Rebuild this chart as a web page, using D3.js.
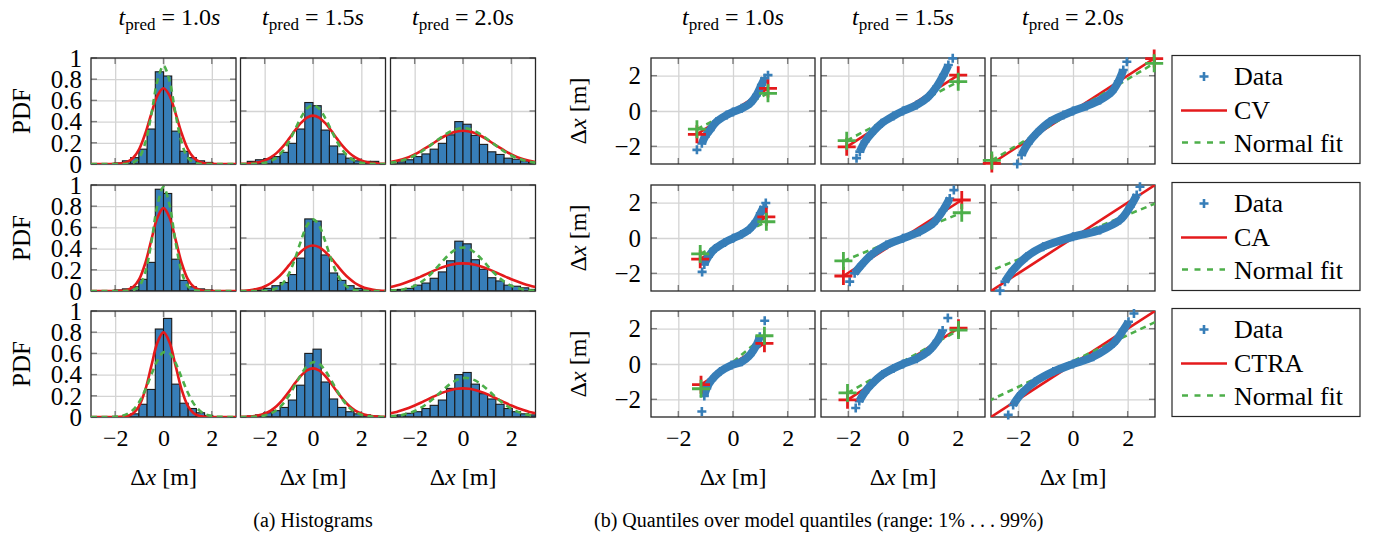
<!DOCTYPE html>
<html>
<head>
<meta charset="utf-8">
<script src="https://cdn.jsdelivr.net/npm/d3@7"></script>
<style>
  body { margin: 0; background: #fff; }
  text { font-family: "Liberation Serif", "Times New Roman", serif; fill: #000; }
</style>
</head>
<body>
<div id="chart"></div>
<script>
// ---- data ----
var predTimes = ["1.0", "1.5", "2.0"];
var modelNames = ["CV", "CA", "CTRA"];
var xTicks = [-2, 0, 2];
var pdfTicksFirst = [0, 0.2, 0.4, 0.6, 0.8, 1];
var pdfTicksOther = [0, 0.5, 1];
var qqTicks = [-2, 0, 2];

// histogram bins: first left edge per panel, common bin width
var binWidth = 0.34;
var histStart = [
  [-2.04, -2.72, -2.72],
  [-2.04, -2.38, -3.06],
  [-2.04, -2.72, -3.06]
];
var histPdf = [
  [
    [0.01, 0.03, 0.06, 0.14, 0.33, 0.87, 0.83, 0.31, 0.12, 0.06, 0.03, 0.015],
    [0.025, 0.04, 0.05, 0.07, 0.11, 0.195, 0.33, 0.58, 0.55, 0.32, 0.17, 0.095, 0.055, 0.03, 0.025, 0.025],
    [0.02, 0.04, 0.07, 0.095, 0.14, 0.195, 0.275, 0.40, 0.375, 0.27, 0.185, 0.115, 0.09, 0.055, 0.045, 0.03, 0.02]
  ],
  [
    [0.01, 0.02, 0.04, 0.11, 0.27, 0.96, 0.92, 0.30, 0.10, 0.04, 0.02, 0.01],
    [0.01, 0.025, 0.05, 0.08, 0.155, 0.31, 0.68, 0.66, 0.34, 0.17, 0.10, 0.05, 0.025, 0.01],
    [0.01, 0.015, 0.025, 0.055, 0.075, 0.12, 0.18, 0.285, 0.47, 0.445, 0.295, 0.205, 0.125, 0.095, 0.055, 0.045, 0.03, 0.015]
  ],
  [
    [0.005, 0.01, 0.03, 0.12, 0.26, 0.83, 0.93, 0.31, 0.13, 0.08, 0.04, 0.015],
    [0.01, 0.02, 0.04, 0.06, 0.09, 0.16, 0.30, 0.60, 0.64, 0.33, 0.17, 0.09, 0.05, 0.03, 0.02, 0.01],
    [0.015, 0.02, 0.035, 0.05, 0.08, 0.11, 0.16, 0.27, 0.40, 0.42, 0.31, 0.22, 0.17, 0.12, 0.08, 0.05, 0.03, 0.02]
  ]
];

// pdf curves, sampled at curveX
var curveX = [-3, -2.75, -2.5, -2.25, -2, -1.75, -1.5, -1.25, -1, -0.75, -0.5, -0.25, 0,
              0.25, 0.5, 0.75, 1, 1.25, 1.5, 1.75, 2, 2.25, 2.5, 2.75, 3];
var modelPdf = [
  [
    [0,0,0,0,0.001,0.005,0.02,0.059,0.144,0.29,0.478,0.646,0.714,0.646,0.478,0.29,0.144,0.059,0.02,0.005,0.001,0,0,0,0],
    [0.001,0.003,0.008,0.017,0.034,0.062,0.105,0.164,0.237,0.316,0.387,0.438,0.456,0.438,0.387,0.316,0.237,0.164,0.105,0.062,0.034,0.017,0.008,0.003,0.001],
    [0.019,0.03,0.045,0.065,0.091,0.122,0.156,0.193,0.23,0.264,0.291,0.308,0.314,0.308,0.291,0.264,0.23,0.193,0.156,0.122,0.091,0.065,0.045,0.03,0.019]
  ],
  [
    [0,0,0,0,0,0.002,0.01,0.039,0.114,0.265,0.484,0.693,0.782,0.693,0.484,0.265,0.114,0.039,0.01,0.002,0,0,0,0,0],
    [0.002,0.005,0.012,0.023,0.043,0.073,0.117,0.174,0.241,0.31,0.371,0.414,0.429,0.414,0.371,0.31,0.241,0.174,0.117,0.073,0.043,0.023,0.012,0.005,0.002],
    [0.038,0.052,0.069,0.089,0.111,0.136,0.161,0.187,0.211,0.231,0.247,0.258,0.261,0.258,0.247,0.231,0.211,0.187,0.161,0.136,0.111,0.089,0.069,0.052,0.038]
  ],
  [
    [0,0,0,0,0,0.002,0.009,0.035,0.108,0.259,0.484,0.704,0.798,0.704,0.484,0.259,0.108,0.035,0.009,0.002,0,0,0,0,0],
    [0.001,0.003,0.007,0.016,0.033,0.061,0.104,0.164,0.237,0.317,0.389,0.44,0.459,0.44,0.389,0.317,0.237,0.164,0.104,0.061,0.033,0.016,0.007,0.003,0.001],
    [0.035,0.048,0.065,0.085,0.108,0.134,0.162,0.189,0.215,0.237,0.255,0.266,0.27,0.266,0.255,0.237,0.215,0.189,0.162,0.134,0.108,0.085,0.065,0.048,0.035]
  ]
];
var fitPdf = [
  [
    [0,0,0,0,0,0,0.002,0.014,0.062,0.203,0.472,0.784,0.928,0.784,0.472,0.203,0.062,0.014,0.002,0,0,0,0,0,0],
    [0,0,0.001,0.004,0.011,0.028,0.062,0.122,0.21,0.322,0.436,0.523,0.556,0.523,0.436,0.322,0.21,0.122,0.062,0.028,0.011,0.004,0.001,0,0],
    [0.013,0.022,0.036,0.055,0.08,0.113,0.151,0.193,0.236,0.276,0.309,0.331,0.338,0.331,0.309,0.276,0.236,0.193,0.151,0.113,0.08,0.055,0.036,0.022,0.013]
  ],
  [
    [0,0,0,0,0,0,0.001,0.009,0.048,0.179,0.461,0.811,0.98,0.811,0.461,0.179,0.048,0.009,0.001,0,0,0,0,0,0],
    [0,0,0,0,0.002,0.008,0.027,0.072,0.161,0.301,0.472,0.618,0.676,0.618,0.472,0.301,0.161,0.072,0.027,0.008,0.002,0,0,0,0],
    [0.003,0.007,0.015,0.028,0.049,0.081,0.124,0.179,0.242,0.305,0.36,0.398,0.411,0.398,0.36,0.305,0.242,0.179,0.124,0.081,0.049,0.028,0.015,0.007,0.003]
  ],
  [
    [0,0,0,0.001,0.003,0.01,0.029,0.069,0.144,0.259,0.401,0.533,0.611,0.601,0.51,0.372,0.233,0.126,0.059,0.023,0.008,0.002,0.001,0,0],
    [0,0.001,0.002,0.006,0.015,0.033,0.067,0.122,0.201,0.298,0.398,0.478,0.517,0.503,0.44,0.347,0.246,0.157,0.09,0.047,0.022,0.009,0.003,0.001,0],
    [0.006,0.011,0.02,0.035,0.056,0.085,0.123,0.169,0.22,0.271,0.316,0.35,0.367,0.366,0.345,0.308,0.261,0.209,0.159,0.115,0.079,0.051,0.031,0.018,0.01]
  ]
];

// quantile plots: [model quantile, data quantile]
var qqData = [
  [
    [[-1.32,-2.2],[-1.14,-1.83],[-1.02,-1.45],[-0.84,-1.07],[-0.6,-0.6],[-0.23,-0.23],[0,-0.05],[0.32,0.15],[0.62,0.43],[0.86,0.9],[1.04,1.47],[1.16,1.85],[1.28,2.03]],
    [[-1.7,-2.67],[-1.58,-2.3],[-1.39,-1.73],[-1.15,-1.26],[-0.78,-0.7],[-0.35,-0.28],[0,0],[0.5,0.34],[0.93,0.81],[1.23,1.37],[1.48,2.03],[1.66,2.6],[1.82,2.98]],
    [[-2.04,-3.0],[-1.88,-2.49],[-1.64,-1.83],[-1.33,-1.26],[-0.84,-0.6],[-0.35,-0.23],[0,0],[0.5,0.28],[0.99,0.62],[1.42,1.09],[1.66,1.66],[1.84,2.32],[1.97,2.79]]
  ],
  [
    [[-1.13,-1.92],[-1.05,-1.5],[-0.9,-1.05],[-0.65,-0.6],[-0.3,-0.25],[0,-0.02],[0.3,0.2],[0.6,0.5],[0.85,0.95],[1.0,1.4],[1.12,1.75],[1.2,1.98]],
    [[-1.95,-2.47],[-1.77,-2.0],[-1.52,-1.53],[-1.16,-0.96],[-0.61,-0.4],[0,-0.02],[0.61,0.36],[1.1,0.83],[1.47,1.58],[1.71,2.24],[1.86,2.71]],
    [[-2.67,-2.98],[-2.49,-2.47],[-2.19,-1.81],[-1.7,-1.06],[-1.09,-0.49],[0,0.07],[0.99,0.45],[1.72,1.02],[2.09,1.77],[2.33,2.43],[2.45,2.9]]
  ],
  [
    [[-1.14,-2.69],[-1.05,-1.81],[-0.96,-1.37],[-0.78,-0.9],[-0.47,-0.43],[-0.05,-0.06],[0.32,0.13],[0.62,0.51],[0.86,1.07],[0.98,1.54],[1.16,2.45]],
    [[-1.73,-2.49],[-1.6,-2.1],[-1.4,-1.6],[-1.15,-1.15],[-0.75,-0.6],[-0.35,-0.25],[0,0],[0.5,0.3],[0.95,0.75],[1.25,1.3],[1.45,1.9],[1.64,2.6]],
    [[-2.37,-2.88],[-2.19,-2.32],[-1.88,-1.66],[-1.39,-1.0],[-0.72,-0.43],[0,0],[0.74,0.41],[1.48,1.17],[1.84,1.92],[2.03,2.39],[2.23,2.86]]
  ]
];
// 1% and 99% points of model line and normal fit line: [x0, y0, x1, y1]
var qqModelEnds = [
  [[-1.32,-1.32,1.28,1.28], [-2.06,-2.03,2.02,2.03], [-2.97,-2.97,2.97,2.97]],
  [[-1.2,-1.2,1.22,1.2], [-2.18,-2.15,2.15,2.15], [-3.56,-3.56,3.56,3.56]],
  [[-1.17,-1.17,1.15,1.17], [-2.03,-2.03,2.03,2.03], [-3.44,-3.44,3.44,3.44]]
];
var qqFitEnds = [
  [[-1.32,-1.03,1.28,1.0], [-2.06,-1.68,2.02,1.66], [-2.97,-2.8,2.97,2.7]],
  [[-1.2,-0.9,1.22,0.92], [-2.18,-1.3,2.15,1.43], [-3.56,-2.2,3.56,2.3]],
  [[-1.17,-1.4,1.15,1.6], [-2.03,-1.64,2.03,1.92], [-3.44,-2.35,3.44,2.69]]
];

// ---- drawing ----
var blue = "#377eb8", red = "#e41a1c", green = "#4daf4a";
var serif = '"Liberation Serif", "Times New Roman", serif';
var fs = 24;

var histLeft = [91, 240.5, 390.5], histW = 145;
var qqLeft = [651, 821, 991], qqW = 164;
var rowTop = [58, 185, 311], rowH = 106;

var svg = d3.select("body div#chart").append("svg")
    .attr("width", 1374)
    .attr("height", 540);
var defs = svg.append("defs");
var clipCount = 0;

function makeClip(x0, y0, w, h) {
  var id = "clip" + (clipCount++);
  defs.append("clipPath").attr("id", id)
    .append("rect").attr("x", x0).attr("y", y0).attr("width", w).attr("height", h);
  return "url(#" + id + ")";
}

function drawGrid(g, x, y, xt, yt) {
  var x0 = x.range()[0], x1 = x.range()[1];
  var y0 = y.range()[1], y1 = y.range()[0];
  g.append("g").attr("transform", "translate(0," + y1 + ")")
    .call(d3.axisBottom(x).tickValues(xt).tickSize(-(y1 - y0)).tickFormat(""))
    .call(function(a) {
      a.select(".domain").remove();
      a.selectAll("line").attr("stroke", "#d4d4d4").attr("stroke-width", 1.3);
    });
  g.append("g").attr("transform", "translate(" + x0 + ",0)")
    .call(d3.axisLeft(y).tickValues(yt).tickSize(-(x1 - x0)).tickFormat(""))
    .call(function(a) {
      a.select(".domain").remove();
      a.selectAll("line").attr("stroke", "#d4d4d4").attr("stroke-width", 1.3);
    });

  // short tick marks inside the frame, on all four sides
  var tl = 6;
  var tg = g.append("g").attr("stroke", "#7d7d7d").attr("stroke-width", 1.4);
  xt.forEach(function(v) {
    tg.append("line").attr("x1", x(v)).attr("x2", x(v)).attr("y1", y0).attr("y2", y0 + tl);
    tg.append("line").attr("x1", x(v)).attr("x2", x(v)).attr("y1", y1).attr("y2", y1 - tl);
  });
  yt.forEach(function(v) {
    tg.append("line").attr("y1", y(v)).attr("y2", y(v)).attr("x1", x0).attr("x2", x0 + tl);
    tg.append("line").attr("y1", y(v)).attr("y2", y(v)).attr("x1", x1).attr("x2", x1 - tl);
  });
}

function drawFrame(g, x, y) {
  g.append("rect")
    .attr("x", x.range()[0]).attr("y", y.range()[1])
    .attr("width", x.range()[1] - x.range()[0])
    .attr("height", y.range()[0] - y.range()[1])
    .attr("fill", "none").attr("stroke", "#262626").attr("stroke-width", 1.3);
}

function bottomLabels(g, x, y) {
  g.append("g").attr("transform", "translate(0," + y.range()[0] + ")")
    .call(d3.axisBottom(x).tickValues(xTicks).tickSize(0).tickFormat(d3.format("d")))
    .call(function(a) {
      a.select(".domain").remove();
      a.attr("font-family", serif).attr("font-size", fs);
      a.selectAll("text").attr("y", 29).attr("dy", null);
    });
}

function leftLabels(g, y, ticks, fmt) {
  g.append("g")
    .call(d3.axisLeft(y).tickValues(ticks).tickSize(0).tickPadding(0).tickFormat(fmt))
    .call(function(a) {
      a.select(".domain").remove();
      a.attr("font-family", serif).attr("font-size", 25);
      a.selectAll("text").attr("dy", "0.33em");
    });
}

function dxLabel(g, cx, cy, rotate) {
  var t = g.append("text")
    .attr("text-anchor", "middle")
    .attr("font-size", fs)
    .attr("transform", "translate(" + cx + "," + cy + ")" + (rotate ? " rotate(-90)" : ""));
  t.append("tspan").text("Δ");
  t.append("tspan").style("font-style", "italic").text("x");
  t.append("tspan").text(" [m]");
}

function predTitle(cx, cy, tp) {
  var t = svg.append("text")
    .attr("x", cx).attr("y", cy)
    .attr("text-anchor", "middle")
    .attr("font-size", fs);
  t.append("tspan").style("font-style", "italic").text("t");
  t.append("tspan").attr("dy", 5).attr("font-size", 17).text("pred");
  t.append("tspan").attr("dy", -5).text(" = " + tp);
  t.append("tspan").style("font-style", "italic").text("s");
}

function plusPath(s) {
  return "M" + (-s) + ",0H" + s + "M0," + (-s) + "V" + s;
}

function drawHist(r, c) {
  var x = d3.scaleLinear().domain([-3, 3]).range([histLeft[c], histLeft[c] + histW]);
  var y = d3.scaleLinear().domain([0, 1]).range([rowTop[r] + rowH, rowTop[r]]);
  var yt = c === 0 ? pdfTicksFirst : pdfTicksOther;
  var g = svg.append("g");

  drawGrid(g, x, y, xTicks, yt);

  var clip = makeClip(x.range()[0], y.range()[1], histW, rowH);
  var plot = g.append("g").attr("clip-path", clip);

  plot.selectAll("rect").data(histPdf[r][c]).enter().append("rect")
    .attr("x", function(d, i) { return x(histStart[r][c] + i * binWidth); })
    .attr("width", function(d, i) { return x(histStart[r][c] + (i + 1) * binWidth) - x(histStart[r][c] + i * binWidth); })
    .attr("y", function(d) { return y(d); })
    .attr("height", function(d) { return y(0) - y(d); })
    .attr("fill", blue)
    .attr("stroke", "#1a1a1a")
    .attr("stroke-width", 1.1);

  drawFrame(g, x, y);

  var line = d3.line()
    .x(function(d, i) { return x(curveX[i]); })
    .y(function(d) { return y(d); })
    .curve(d3.curveCatmullRom.alpha(0.5));

  var top = g.append("g").attr("clip-path", clip);
  top.append("path").datum(modelPdf[r][c])
    .attr("d", line).attr("fill", "none")
    .attr("stroke", red).attr("stroke-width", 2.6);
  top.append("path").datum(fitPdf[r][c])
    .attr("d", line).attr("fill", "none")
    .attr("stroke", green).attr("stroke-width", 2.6)
    .attr("stroke-dasharray", "6,4.5");

  if (c === 0) {
    var lg = g.append("g").attr("transform", "translate(" + (x.range()[0] - 9) + ",0)");
    leftLabels(lg, y, pdfTicksFirst, function(d) { return String(d); });
    g.append("text")
      .attr("transform", "translate(30," + (rowTop[r] + rowH / 2) + ") rotate(-90)")
      .attr("text-anchor", "middle")
      .attr("font-size", 25)
      .text("PDF");
  }
  if (r === 2) {
    bottomLabels(g, x, y);
    dxLabel(g, x(0), 485, false);
  }
}

function drawQQ(r, c) {
  var x = d3.scaleLinear().domain([-3, 3]).range([qqLeft[c], qqLeft[c] + qqW]);
  var y = d3.scaleLinear().domain([-3, 3]).range([rowTop[r] + rowH, rowTop[r]]);
  var g = svg.append("g");

  drawGrid(g, x, y, xTicks, qqTicks);
  drawFrame(g, x, y);

  var clip = makeClip(x.range()[0], y.range()[1], qqW, rowH);
  var lines = g.append("g").attr("clip-path", clip);
  var me = qqModelEnds[r][c], fe = qqFitEnds[r][c];

  lines.append("line")
    .attr("x1", x(me[0])).attr("y1", y(me[1])).attr("x2", x(me[2])).attr("y2", y(me[3]))
    .attr("stroke", red).attr("stroke-width", 2.6);
  lines.append("line")
    .attr("x1", x(fe[0])).attr("y1", y(fe[1])).attr("x2", x(fe[2])).attr("y2", y(fe[3]))
    .attr("stroke", green).attr("stroke-width", 2.6).attr("stroke-dasharray", "6,4.5");

  // dense quantile markers form a thick band; the outermost ones stand alone
  var pts = qqData[r][c];
  var band = d3.line()
    .x(function(d) { return x(d[0]); })
    .y(function(d) { return y(d[1]); })
    .curve(d3.curveCatmullRom.alpha(0.5));
  g.append("path").datum(pts.slice(1, pts.length - 1))
    .attr("d", band).attr("fill", "none")
    .attr("stroke", blue).attr("stroke-width", 8)
    .attr("stroke-linejoin", "round");
  g.selectAll("path.dq").data(pts).enter().append("path")
    .attr("class", "dq")
    .attr("transform", function(d) { return "translate(" + x(d[0]) + "," + y(d[1]) + ")"; })
    .attr("d", plusPath(4.5))
    .attr("stroke", blue).attr("stroke-width", 2.6);

  // end markers of model and fit
  var inside = function(v) { return Math.abs(v) <= 3.05; };
  [[me, red], [fe, green]].forEach(function(p) {
    var e = p[0];
    [[e[0], e[1]], [e[2], e[3]]].forEach(function(q) {
      if (inside(q[0]) && inside(q[1])) {
        g.append("path")
          .attr("transform", "translate(" + x(q[0]) + "," + y(q[1]) + ")")
          .attr("d", plusPath(9))
          .attr("stroke", p[1]).attr("stroke-width", 2.8);
      }
    });
  });

  if (c === 0) {
    var lg = g.append("g").attr("transform", "translate(" + (x.range()[0] - 10) + ",0)");
    leftLabels(lg, y, qqTicks, d3.format("d"));
    dxLabel(g, 586, rowTop[r] + rowH / 2, true);
  }
  if (r === 2) {
    bottomLabels(g, x, y);
    dxLabel(g, x(0), 485, false);
  }
}

function drawLegend(r) {
  var top = rowTop[r] - 2.5;
  var g = svg.append("g");
  g.append("rect")
    .attr("x", 1172).attr("y", top).attr("width", 188).attr("height", 108)
    .attr("fill", "#fff").attr("stroke", "#262626").attr("stroke-width", 1.2);
  g.append("path")
    .attr("transform", "translate(1204," + (top + 21) + ")")
    .attr("d", plusPath(4.5)).attr("stroke", blue).attr("stroke-width", 2.6);
  g.append("line")
    .attr("x1", 1181).attr("x2", 1227).attr("y1", top + 55).attr("y2", top + 55)
    .attr("stroke", red).attr("stroke-width", 2.6);
  g.append("line")
    .attr("x1", 1182).attr("x2", 1225).attr("y1", top + 87).attr("y2", top + 87)
    .attr("stroke", green).attr("stroke-width", 2.6).attr("stroke-dasharray", "6,6.5");
  var labels = ["Data", modelNames[r], "Normal fit"];
  var ys = [top + 29, top + 63, top + 96];
  labels.forEach(function(s, i) {
    g.append("text").attr("x", 1234).attr("y", ys[i]).attr("font-size", 26).text(s);
  });
}

for (var r = 0; r < 3; r++) {
  for (var c = 0; c < 3; c++) {
    drawHist(r, c);
    drawQQ(r, c);
  }
  drawLegend(r);
}

predTimes.forEach(function(tp, i) {
  predTitle(histLeft[i] + histW / 2 + (i === 0 ? 6 : 0), 25, tp);
  predTitle(qqLeft[i] + qqW / 2, 25, tp);
});

svg.append("text").attr("x", 313).attr("y", 527).attr("text-anchor", "middle")
  .attr("font-size", 20).text("(a) Histograms");
svg.append("text").attr("x", 594).attr("y", 527)
  .attr("font-size", 20).text("(b) Quantiles over model quantiles (range: 1% . . . 99%)");
</script>
</body>
</html>
